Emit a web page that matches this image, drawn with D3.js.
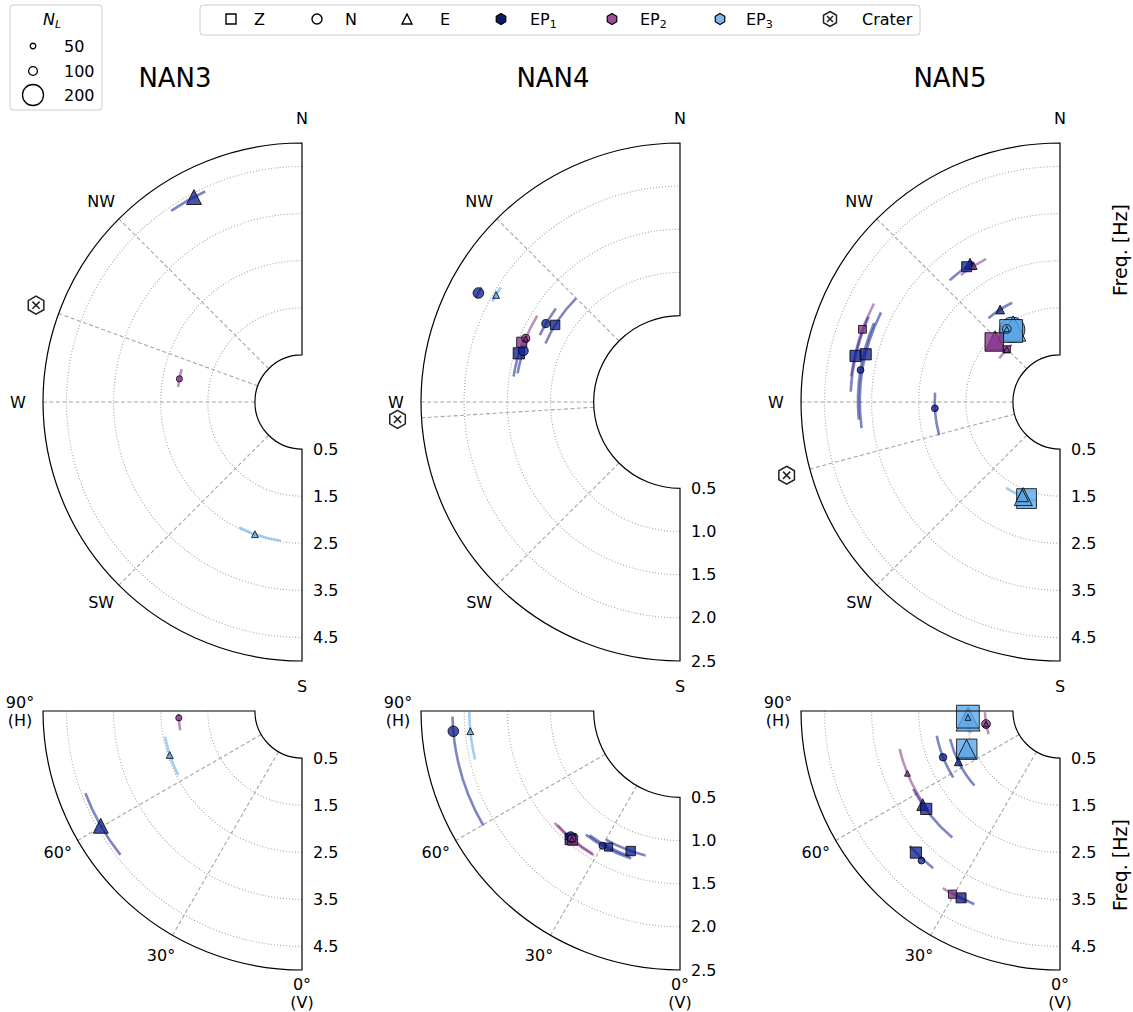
<!DOCTYPE html>
<html><head><meta charset="utf-8">
<script src="https://cdn.jsdelivr.net/npm/d3@7"></script>
<style>body{margin:0;background:#fff}svg{font-family:"DejaVu Sans",sans-serif}</style>
</head><body><svg id="c" width="1133" height="1012"></svg>
<script>
// ---------- data ----------
const stations = ["NAN3", "NAN4", "NAN5"];
const freqMax = [5, 2.5, 5];
const freqTicks = [[0.5,1.5,2.5,3.5,4.5],[0.5,1.0,1.5,2.0,2.5],[0.5,1.5,2.5,3.5,4.5]];
const craterAz = [290, 266.5, 255];
const compassLabels = ["N","NW","W","SW","S"];
const compassAz = [360, 315, 270, 225, 180];
const compassSpokes = [315, 270, 225];
const incLabels = [["90°","(H)"],["60°"],["30°"],["0°","(V)"]];
const incTicks = [90, 60, 30, 0];
const incSpokes = [60, 30];
const compNames = ["Z","N","E"];
const epNames = ["1","2","3"];
const epColors = ["#12238e", "#86358a", "#5aa5e6"];
const nlLegend = [50, 100, 200];

// c: component, ep: episode, nl: N_L, f: freq [Hz], v: azimuth (top) or incidence (bottom), lo/hi: range
const nan3Top = [
 {c:"E",ep:1,nl:150,f:4.42,v:332.2,lo:325.6,hi:335.3},
 {c:"N",ep:2,nl:60,f:2.15,v:280.7,lo:276.9,hi:285.3},
 {c:"E",ep:3,nl:70,f:2.48,v:199.6,lo:188.6,hi:206.6}
];
const nan3Bot = [
 {c:"N",ep:2,nl:60,f:2.12,v:86.8,lo:81,hi:88.7},
 {c:"E",ep:3,nl:70,f:2.46,v:71.6,lo:62.6,hi:79.4},
 {c:"E",ep:1,nl:150,f:4.42,v:60.3,lo:51.6,hi:69.2}
];
const nan4Top = [
 {c:"N",ep:1,nl:115,f:2.155,v:298.4,lo:297,hi:300},
 {c:"E",ep:3,nl:70,f:1.965,v:300.2,lo:298.2,hi:302.6},
 {c:"Z",ep:1,nl:105,f:1.2,v:301.7,lo:293.5,hi:314.8},
 {c:"N",ep:1,nl:90,f:1.30,v:300.3,lo:295.5,hi:307},
 {c:"Z",ep:1,nl:120,f:1.45,v:286.8,lo:278.7,hi:291},
 {c:"N",ep:1,nl:110,f:1.41,v:288.1,lo:280,hi:292},
 {c:"Z",ep:2,nl:110,f:1.46,v:290.7,lo:null,hi:null},
 {c:"N",ep:2,nl:90,f:1.433,v:292.4,lo:291,hi:301.2},
 {c:"E",ep:2,nl:45,f:1.433,v:292.4,lo:null,hi:null}
];
const nan4Bot = [
 {c:"N",ep:1,nl:115,f:2.136,v:84.9,lo:59.8,hi:88.6},
 {c:"E",ep:3,nl:70,f:1.94,v:84.5,lo:76.7,hi:89.7},
 {c:"Z",ep:1,nl:120,f:1.45,v:40.5,lo:null,hi:null},
 {c:"N",ep:1,nl:110,f:1.43,v:41,lo:null,hi:null},
 {c:"Z",ep:2,nl:110,f:1.446,v:39.7,lo:30.9,hi:48.3},
 {c:"N",ep:2,nl:90,f:1.44,v:40.2,lo:31.5,hi:47},
 {c:"E",ep:2,nl:45,f:1.44,v:40.2,lo:null,hi:null},
 {c:"N",ep:1,nl:75,f:1.30,v:29.9,lo:18.3,hi:37.3},
 {c:"Z",ep:1,nl:90,f:1.28,v:27.7,lo:19,hi:36},
 {c:"Z",ep:1,nl:105,f:1.22,v:19.4,lo:13.4,hi:29.9}
];
const nan5Top = [
 {c:"Z",ep:1,nl:110,f:2.99,v:325.4,lo:317.8,hi:328.5},
 {c:"E",ep:1,nl:120,f:3.0,v:326.9,lo:null,hi:null},
 {c:"E",ep:2,nl:70,f:2.92,v:327.6,lo:322,hi:332.7},
 {c:"E",ep:1,nl:100,f:1.84,v:327.1,lo:319.5,hi:334.3},
 {c:"N",ep:3,nl:235,f:1.34,v:326.6,lo:null,hi:null},
 {c:"E",ep:3,nl:235,f:1.35,v:327.5,lo:322,hi:335},
 {c:"Z",ep:3,nl:215,f:1.33,v:325.5,lo:null,hi:null},
 {c:"N",ep:3,nl:100,f:1.42,v:323.9,lo:null,hi:null},
 {c:"E",ep:3,nl:50,f:1.42,v:323.9,lo:null,hi:null},
 {c:"Z",ep:2,nl:180,f:1.39,v:312.4,lo:null,hi:null},
 {c:"E",ep:2,nl:185,f:1.40,v:313.5,lo:null,hi:null},
 {c:"Z",ep:2,nl:75,f:1.09,v:314.7,lo:305.8,hi:320},
 {c:"E",ep:2,nl:60,f:1.09,v:314.7,lo:null,hi:null},
 {c:"Z",ep:2,nl:85,f:3.97,v:290.2,lo:277,hi:297.9},
 {c:"Z",ep:1,nl:120,f:3.95,v:282.7,lo:272.8,hi:294},
 {c:"Z",ep:1,nl:120,f:3.75,v:283.8,lo:262.5,hi:296.6},
 {c:"N",ep:1,nl:70,f:3.79,v:279.1,lo:265,hi:293},
 {c:"N",ep:1,nl:70,f:2.16,v:267.1,lo:254.7,hi:274.3},
 {c:"Z",ep:3,nl:190,f:1.67,v:199.1,lo:null,hi:null},
 {c:"E",ep:3,nl:175,f:1.655,v:201.2,lo:193.2,hi:212.1},
 {c:"E",ep:3,nl:130,f:1.64,v:202,lo:null,hi:null}
];
const nan5Bot = [
 {c:"Z",ep:3,nl:215,f:1.46,v:86.5,lo:null,hi:null},
 {c:"E",ep:3,nl:225,f:1.46,v:85,lo:76,hi:88},
 {c:"E",ep:3,nl:55,f:1.46,v:86,lo:null,hi:null},
 {c:"N",ep:2,nl:100,f:1.095,v:80,lo:72,hi:89},
 {c:"E",ep:2,nl:50,f:1.095,v:80,lo:null,hi:null},
 {c:"Z",ep:3,nl:195,f:1.64,v:67.7,lo:null,hi:null},
 {c:"E",ep:3,nl:180,f:1.64,v:68,lo:null,hi:null},
 {c:"E",ep:1,nl:90,f:1.91,v:63.5,lo:48.9,hi:75.7},
 {c:"N",ep:1,nl:80,f:2.17,v:68.4,lo:58.1,hi:78.6},
 {c:"E",ep:2,nl:55,f:3.0,v:67.8,lo:56,hi:76.7},
 {c:"E",ep:1,nl:125,f:3.03,v:55.7,lo:40.4,hi:62},
 {c:"Z",ep:1,nl:120,f:3.02,v:53.8,lo:null,hi:null},
 {c:"Z",ep:1,nl:120,f:3.79,v:45.5,lo:38.9,hi:48.1},
 {c:"N",ep:1,nl:70,f:3.83,v:42.8,lo:null,hi:null},
 {c:"Z",ep:2,nl:90,f:4.01,v:30.4,lo:26,hi:33.5},
 {c:"Z",ep:1,nl:110,f:3.99,v:27.9,lo:23.9,hi:31}
];
const topData = [nan3Top, nan4Top, nan5Top];
const botData = [nan3Bot, nan4Bot, nan5Bot];

// ---------- layout ----------
const svg = d3.select("#c");
const R = 259;
const colX = [302, 680, 1060];
const topY = 402, botY = 711;
const titleX = [175, 553, 950];
const gridCol = "#a6a6a6";
const sizeScale = d3.scaleLinear().domain(nlLegend).range([5.5, 8.8, 21]);

const rad = d => d * Math.PI / 180;
function pt(cx, cy, r, deg) { return [cx + r * Math.sin(rad(deg)), cy - r * Math.cos(rad(deg))]; }
function arcPath(cx, cy, r, d0, d1) {
  const p = d3.path(); const s = pt(cx, cy, r, d0);
  p.moveTo(s[0], s[1]); p.arc(cx, cy, r, rad(d0 - 90), rad(d1 - 90), false);
  return p.toString();
}
function shape(c, s) {
  const h = s / 2;
  if (c === "Z") return `M${-h},${-h}H${h}V${h}H${-h}Z`;
  if (c === "E") return `M0,${-h}L${h},${h}L${-h},${h}Z`;
  if (c === "N") return `M${h},0A${h},${h} 0 1,1 ${-h},0A${h},${h} 0 1,1 ${h},0Z`;
  return d3.range(6).map((k, i) => { const a = rad(-90 + 60 * k); return (i ? "L" : "M") + (h * Math.cos(a)) + "," + (h * Math.sin(a)); }).join("") + "Z";
}
function crater(g, x, y, s) {
  const cg = g.append("g").attr("transform", `translate(${x},${y})`);
  cg.append("path").attr("d", shape("H", s)).attr("fill", "#fff").attr("stroke", "#222").attr("stroke-width", 1.5);
  const q = s * 0.2;
  cg.append("path").attr("d", `M${-q},${-q}L${q},${q}M${-q},${q}L${q},${-q}`).attr("stroke", "#222").attr("stroke-width", 1.5);
}

function drawPanel(i, cy, a0, a1, data, angOf, spokes, isTop) {
  const cx = colX[i];
  const r = d3.scaleLinear().domain([-0.5, freqMax[i]]).range([0, R]);
  const g = svg.append("g");
  freqTicks[i].filter(t => t > 0.5 && t < freqMax[i]).forEach(t => {
    g.append("path").attr("d", arcPath(cx, cy, r(t), a0, a1)).attr("fill", "none")
      .attr("stroke", gridCol).attr("stroke-width", 1.1).attr("stroke-dasharray", "1,2");
  });
  const sp = spokes.map(angOf);
  if (isTop) sp.push(craterAz[i]);
  sp.forEach(d => {
    const p0 = pt(cx, cy, r(0.5), d), p1 = pt(cx, cy, R, d);
    g.append("line").attr("x1", p0[0]).attr("y1", p0[1]).attr("x2", p1[0]).attr("y2", p1[1])
      .attr("stroke", gridCol).attr("stroke-width", 1.1).attr("stroke-dasharray", "4,2.5");
  });
  data.filter(d => d.lo != null).forEach(d => {
    g.append("path").attr("d", arcPath(cx, cy, r(d.f), angOf(d.lo), angOf(d.hi))).attr("fill", "none")
      .attr("stroke", epColors[d.ep - 1]).attr("stroke-opacity", 0.55).attr("stroke-width", 2.6);
  });
  const sorted = data.slice().sort((a, b) => b.nl - a.nl);
  sorted.forEach(d => {
    const p = pt(cx, cy, r(d.f), angOf(d.v));
    g.append("path").attr("d", shape(d.c, sizeScale(d.nl))).attr("transform", `translate(${p[0]},${p[1]})`)
      .attr("fill", epColors[d.ep - 1]).attr("fill-opacity", 0.78)
      .attr("stroke", "#000").attr("stroke-opacity", 0.8).attr("stroke-width", 1);
  });
  g.append("path").attr("d", d3.arc()({innerRadius: r(0.5), outerRadius: R, startAngle: rad(a0), endAngle: rad(a1)}))
    .attr("transform", `translate(${cx},${cy})`).attr("fill", "none").attr("stroke", "#000").attr("stroke-width", 1.2);
  freqTicks[i].forEach(t => {
    g.append("text").attr("x", cx + 11).attr("y", cy + r(t)).attr("dominant-baseline", "central")
      .attr("font-size", 16).attr("fill", "#000").text(t.toFixed(1));
  });
  if (isTop) {
    compassLabels.forEach((lab, k) => {
      const p = pt(cx, cy, R + 25, compassAz[k]);
      g.append("text").attr("x", p[0]).attr("y", p[1]).attr("text-anchor", "middle")
        .attr("dominant-baseline", "central").attr("font-size", 16).text(lab);
    });
    const pc = pt(cx, cy, R + 24, craterAz[i]);
    crater(g, pc[0], pc[1], 18);
  } else {
    incLabels.forEach((lines, k) => {
      const p = pt(cx, cy, R + 23, 180 + incTicks[k]);
      const t = g.append("text").attr("x", p[0]).attr("text-anchor", "middle").attr("font-size", 16);
      const n = lines.length;
      lines.forEach((ln, j) => {
        t.append("tspan").attr("x", p[0]).attr("y", p[1] + (j - (n - 1) / 2) * 18).attr("dominant-baseline", "central").text(ln);
      });
    });
  }
}

stations.forEach((s, i) => {
  drawPanel(i, topY, 180, 360, topData[i], v => v, compassSpokes, true);
  drawPanel(i, botY, 180, 270, botData[i], v => 180 + v, incSpokes, false);
  svg.append("text").attr("x", titleX[i]).attr("y", 87).attr("text-anchor", "middle")
    .attr("font-size", 26).text(s);
});

[250, 865].forEach(y => {
  svg.append("text").attr("transform", `translate(1120,${y}) rotate(-90)`).attr("text-anchor", "middle")
    .attr("dominant-baseline", "central").attr("font-size", 19).text("Freq. [Hz]");
});

// ---------- top legend ----------
const lg = svg.append("g");
lg.append("rect").attr("x", 200).attr("y", 5).attr("width", 720).attr("height", 30).attr("rx", 3)
  .attr("fill", "#fff").attr("stroke", "#ccc").attr("stroke-width", 1);
const compLegX = [231, 317, 407], compTextX = [254, 345, 440];
compNames.forEach((c, k) => {
  lg.append("path").attr("d", shape(c, 10)).attr("transform", `translate(${compLegX[k]},19)`)
    .attr("fill", "#fff").attr("stroke", "#000").attr("stroke-width", 1.4);
  lg.append("text").attr("x", compTextX[k]).attr("y", 19).attr("dominant-baseline", "central").attr("font-size", 16).text(c);
});
const epLegX = [501, 612, 720], epTextX = [530, 640, 746];
const epLegColors = ["#0d1b66", "#9c4f98", "#7ab9ef"];
epNames.forEach((e, k) => {
  lg.append("path").attr("d", shape("H", 11)).attr("transform", `translate(${epLegX[k]},19)`)
    .attr("fill", epLegColors[k]).attr("stroke", "#000").attr("stroke-width", 1.2);
  const t = lg.append("text").attr("x", epTextX[k]).attr("y", 19).attr("dominant-baseline", "central").attr("font-size", 16);
  t.append("tspan").text("EP");
  t.append("tspan").attr("font-size", 11).attr("dy", 5).text(e);
});
crater(lg, 830, 19, 15);
lg.append("text").attr("x", 862).attr("y", 19).attr("dominant-baseline", "central").attr("font-size", 16).text("Crater");

// ---------- N_L legend ----------
const ng = svg.append("g");
ng.append("rect").attr("x", 10).attr("y", 5).attr("width", 92).attr("height", 105).attr("rx", 3)
  .attr("fill", "#fff").attr("stroke", "#ccc").attr("stroke-width", 1);
const nt = ng.append("text").attr("x", 52).attr("y", 19).attr("text-anchor", "middle")
  .attr("dominant-baseline", "central").attr("font-size", 16).attr("font-style", "italic");
nt.append("tspan").text("N");
nt.append("tspan").attr("font-size", 11).attr("dy", 5).text("L");
const nlY = [46, 71, 95];
nlLegend.forEach((v, k) => {
  ng.append("path").attr("d", shape("N", sizeScale(v))).attr("transform", `translate(33,${nlY[k]})`)
    .attr("fill", "#fff").attr("stroke", "#000").attr("stroke-width", 1.3);
  ng.append("text").attr("x", 64).attr("y", nlY[k]).attr("dominant-baseline", "central").attr("font-size", 16).text(v);
});
</script></body></html>
